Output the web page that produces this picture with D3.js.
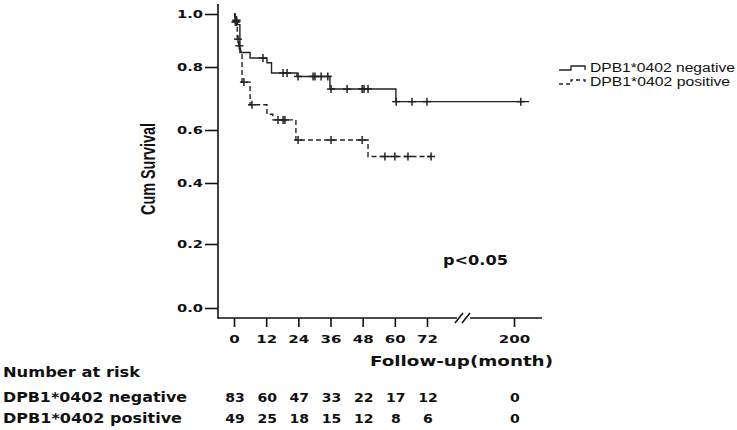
<!DOCTYPE html>
<html>
<head>
<meta charset="utf-8">
<script src="https://cdnjs.cloudflare.com/ajax/libs/d3/7.8.5/d3.min.js"></script>
<style>
  body { margin: 0; background: #fff; }
  svg { display: block; }
  .bold { font-family: "DejaVu Sans", Verdana, sans-serif; font-weight: bold; fill: #111; }
</style>
</head>
<body>
<div id="chart"></div>
<script>
// Kaplan-Meier curves (months, cumulative survival)
var negTimes = [0, 0.5, 1.3, 2.2, 6, 12.3, 14, 23.5, 35.8, 60.4, 222];
var negSurv  = [1.0, 0.976, 0.96, 0.855, 0.834, 0.816, 0.781, 0.77, 0.73, 0.69, 0.69];
var negCensor = [0.8, 1.0, 10.8, 18.3, 19.8, 23.9, 29.5, 30.2, 32.5, 35, 36.2, 42.2, 47.8, 48.5, 50, 60.5, 66.4, 72, 210];

var posTimes = [0, 0.3, 1.2, 1.8, 2.4, 3, 6, 12.3, 14.5, 23.1, 50, 78];
var posSurv  = [1.0, 0.97, 0.905, 0.88, 0.86, 0.752, 0.68, 0.65, 0.632, 0.562, 0.5, 0.5];
var posCensor = [0.5, 0.9, 1.5, 2.0, 3.7, 6.7, 16.4, 18.3, 19, 23.9, 36.2, 47.8, 56.3, 60, 64.9, 78];

var xTicks = [0, 12, 24, 36, 48, 60, 72, 200];
var yTicks = [0, 0.2, 0.4, 0.6, 0.8, 1.0];

var groups = ["DPB1*0402 negative", "DPB1*0402 positive"];
var riskTimes = [0, 12, 24, 36, 48, 60, 72, 200];
var riskNeg = [83, 60, 47, 33, 22, 17, 12, 0];
var riskPos = [49, 25, 18, 15, 12, 8, 6, 0];

var width = 737, height = 430;
var axisX = 218, axisY = 318;

var svg = d3.select("#chart").append("svg")
  .attr("width", width)
  .attr("height", height);

// broken x axis: 0-72 months then a jump to 200
var x = d3.scaleLinear()
  .domain([0, 72, 200])
  .range([234, 427, 514]);

// the picture's y ticks are not evenly spaced, so follow them piecewise
var y = d3.scaleLinear()
  .domain(yTicks)
  .range([308, 244, 183, 130, 67, 14]);

// AXES
var yAxis = d3.axisLeft(y)
  .tickValues(yTicks)
  .tickSize(13)
  .tickFormat(d3.format(".1f"));

var gy = svg.append("g")
  .attr("transform", "translate(" + axisX + ",0)")
  .call(yAxis);
gy.select(".domain").remove();
gy.selectAll("line").attr("stroke", "#111").attr("stroke-width", 1.6);
gy.selectAll("text")
  .attr("class", "bold")
  .attr("font-size", 10.5)
  .attr("x", -15 / 1.4)
  .attr("transform", "scale(1.4,1)");

var xAxis = d3.axisBottom(x)
  .tickValues(xTicks)
  .tickSize(9)
  .tickFormat(d3.format("d"));

var gx = svg.append("g")
  .attr("transform", "translate(0," + axisY + ")")
  .call(xAxis);
gx.select(".domain").remove();
gx.selectAll("line").attr("stroke", "#111").attr("stroke-width", 1.6);
gx.selectAll("text")
  .attr("class", "bold")
  .attr("font-size", 11)
  .attr("y", 17)
  .attr("transform", "scale(1.37,1)");

// axis lines (y runs a bit above 1.0, x has a gap for the break)
var axisLines = svg.append("g").attr("stroke", "#111").attr("stroke-width", 1.6).attr("fill", "none");
axisLines.append("line").attr("x1", axisX).attr("x2", axisX).attr("y1", 4).attr("y2", axisY + 0.8);
axisLines.append("line").attr("x1", axisX).attr("x2", 457).attr("y1", axisY).attr("y2", axisY);
axisLines.append("line").attr("x1", 470).attr("x2", 542).attr("y1", axisY).attr("y2", axisY);
axisLines.append("line").attr("x1", 455).attr("x2", 463).attr("y1", 323).attr("y2", 313);
axisLines.append("line").attr("x1", 462).attr("x2", 470).attr("y1", 323).attr("y2", 313);

// CURVES
function survAt(times, surv, t) {
  var i = d3.bisectRight(times, t) - 1;
  return surv[Math.max(0, i)];
}

var line = d3.line()
  .x(function(d) { return x(d[0]); })
  .y(function(d) { return y(d[1]); })
  .curve(d3.curveStepAfter);

function drawCurve(times, surv, censor, dash) {
  var g = svg.append("g");
  g.append("path")
    .datum(d3.zip(times, surv))
    .attr("d", line)
    .attr("fill", "none")
    .attr("stroke", "#222")
    .attr("stroke-width", 1.4)
    .attr("stroke-dasharray", dash);

  var marks = g.selectAll("g.censor")
    .data(censor)
    .enter().append("g")
    .attr("class", "censor")
    .attr("transform", function(t) {
      return "translate(" + x(t) + "," + y(survAt(times, surv, t)) + ")";
    })
    .attr("stroke", "#222")
    .attr("stroke-width", 1.5);
  marks.append("line").attr("x1", 0).attr("x2", 0).attr("y1", -4).attr("y2", 4);
  marks.append("line").attr("x1", -4).attr("x2", 4).attr("y1", 0).attr("y2", 0);
}

drawCurve(negTimes, negSurv, negCensor, null);
drawCurve(posTimes, posSurv, posCensor, "5,3");

// LEGEND
var legend = svg.append("g").attr("transform", "translate(559,70)");
legend.selectAll("g")
  .data(groups)
  .enter().append("g")
  .attr("transform", function(d, i) { return "translate(0," + (i * 14) + ")"; })
  .each(function(d, i) {
    var g = d3.select(this);
    g.append("path")
      .attr("d", "M0,0H12V-4H26V0")
      .attr("fill", "none")
      .attr("stroke", "#222")
      .attr("stroke-width", 1.3)
      .attr("stroke-dasharray", i === 1 ? "4,3" : null);
    g.append("text")
      .attr("x", 31)
      .attr("y", 2)
      .attr("font-family", "Liberation Sans, Arial, sans-serif")
      .attr("font-size", 12)
      .attr("fill", "#111")
      .attr("textLength", i === 0 ? 145 : 140)
      .attr("lengthAdjust", "spacingAndGlyphs")
      .text(d);
  });

// TITLES
svg.append("text")
  .attr("transform", "translate(155,169) rotate(-90)")
  .attr("text-anchor", "middle")
  .attr("font-family", "Liberation Sans Narrow, Arial Narrow, Liberation Sans, sans-serif")
  .attr("font-size", 21)
  .attr("font-weight", "bold")
  .attr("fill", "#111")
  .attr("textLength", 92)
  .attr("lengthAdjust", "spacingAndGlyphs")
  .text("Cum Survival");

svg.append("text")
  .attr("class", "bold")
  .attr("x", 370)
  .attr("y", 366)
  .attr("font-size", 14)
  .attr("textLength", 183)
  .attr("lengthAdjust", "spacingAndGlyphs")
  .text("Follow-up(month)");

svg.append("text")
  .attr("class", "bold")
  .attr("x", 443)
  .attr("y", 265)
  .attr("font-size", 14)
  .attr("textLength", 65)
  .attr("lengthAdjust", "spacingAndGlyphs")
  .text("p<0.05");

// NUMBER AT RISK TABLE
svg.append("text")
  .attr("class", "bold")
  .attr("x", 3)
  .attr("y", 377)
  .attr("font-size", 13.5)
  .attr("textLength", 137)
  .attr("lengthAdjust", "spacingAndGlyphs")
  .text("Number at risk");

var rows = [riskNeg, riskPos];
var rowY = [402, 423];
var labelW = [184, 179];

rows.forEach(function(vals, r) {
  svg.append("text")
    .attr("class", "bold")
    .attr("x", 3)
    .attr("y", rowY[r])
    .attr("font-size", 13.5)
    .attr("textLength", labelW[r])
    .attr("lengthAdjust", "spacingAndGlyphs")
    .text(groups[r]);

  svg.append("g")
    .selectAll("text")
    .data(vals)
    .enter().append("text")
    .attr("class", "bold")
    .attr("font-size", 13)
    .attr("text-anchor", "middle")
    .attr("transform", function(d, i) {
      return "translate(" + (x(riskTimes[i]) + 1) + "," + rowY[r] + ") scale(1.08,1)";
    })
    .text(function(d) { return d; });
});
</script>
</body>
</html>
